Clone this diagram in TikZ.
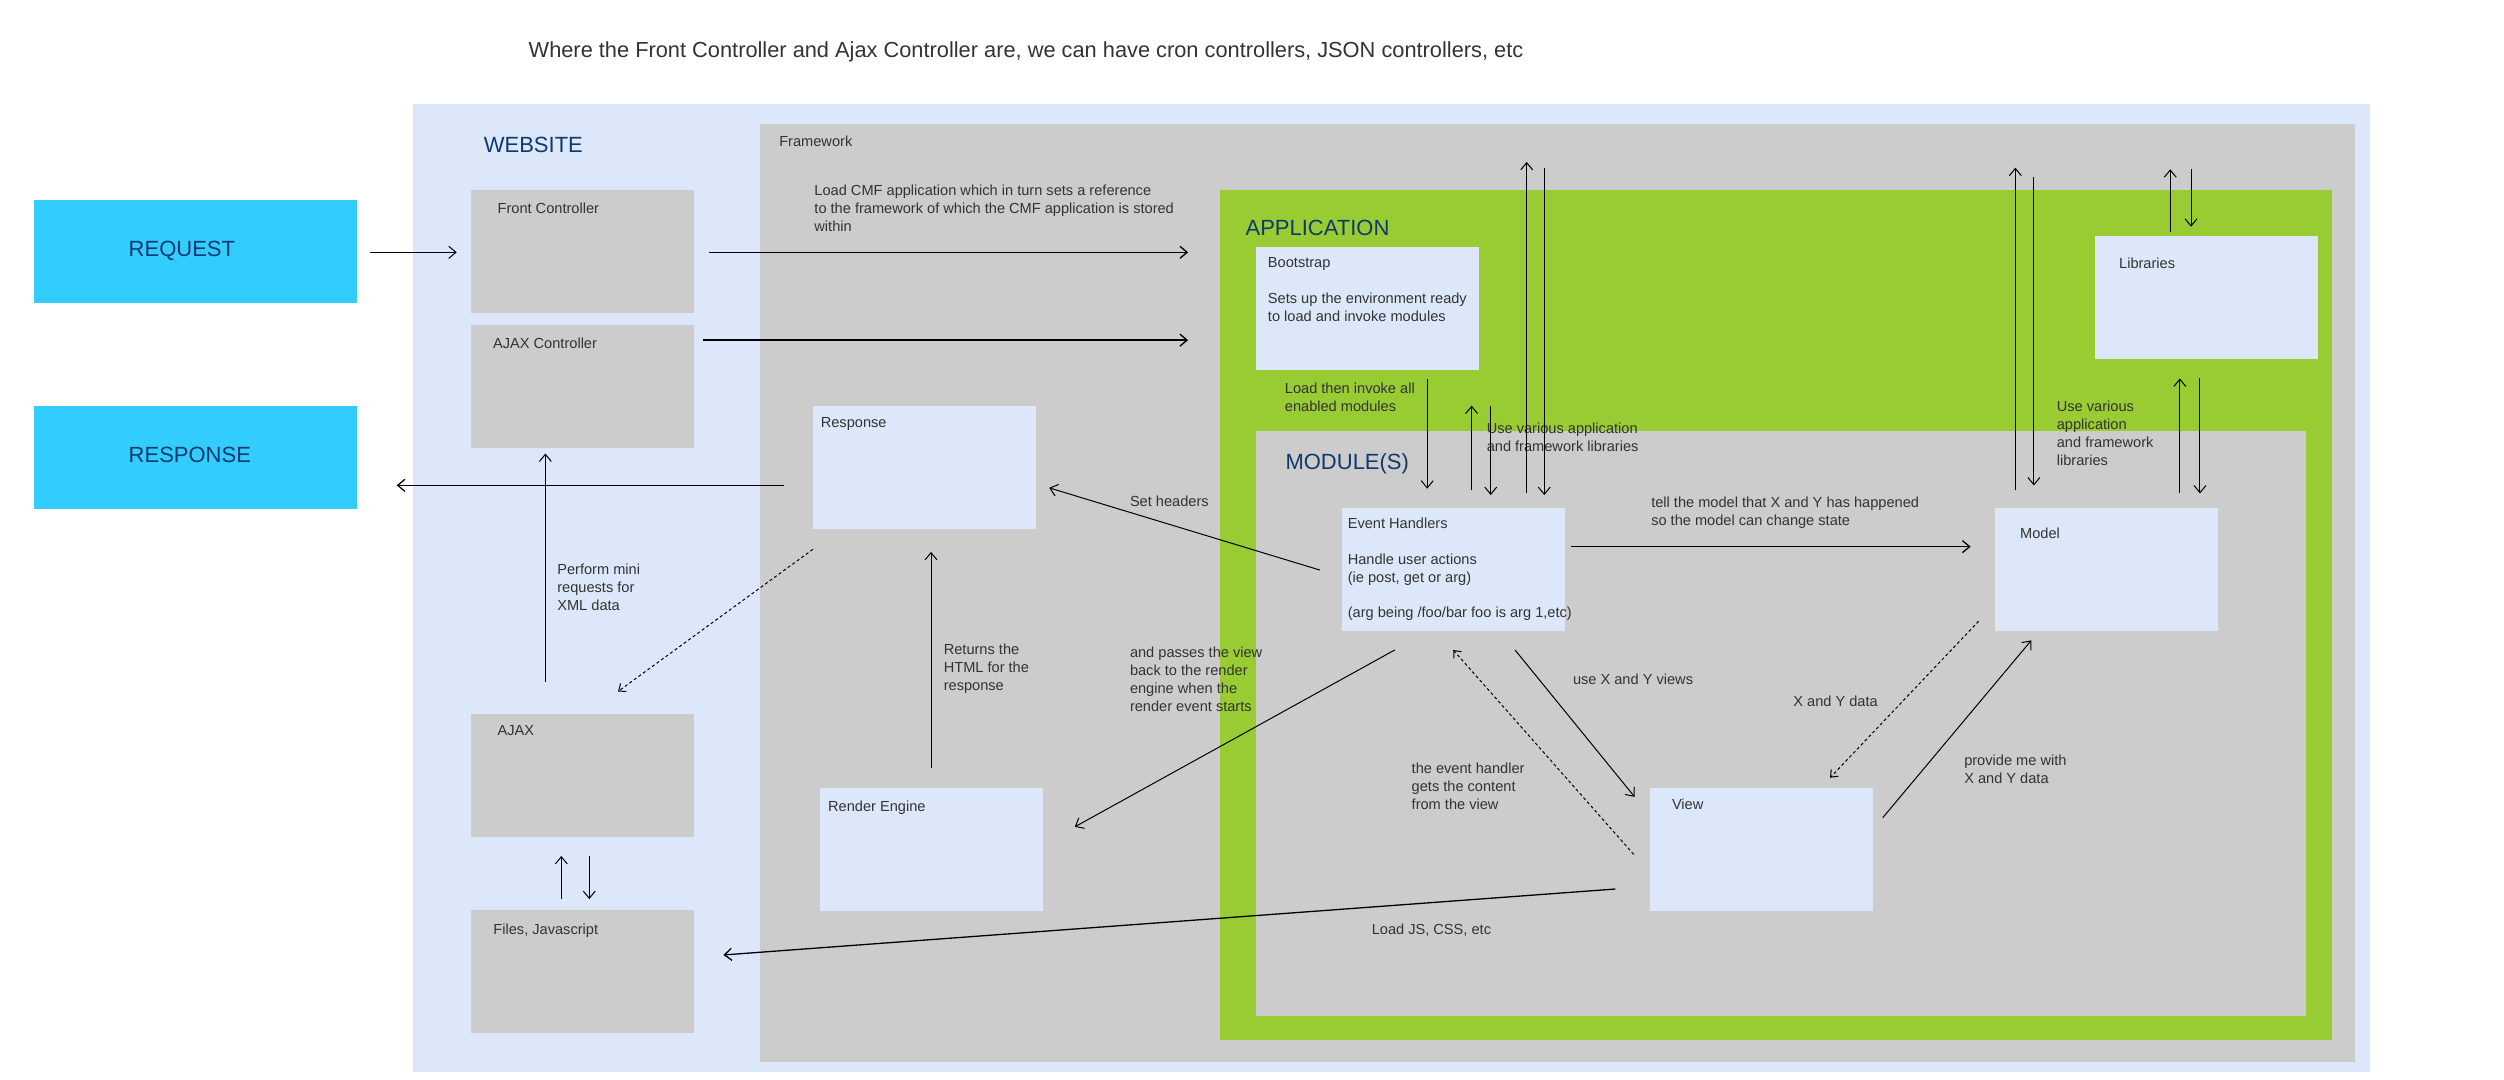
\documentclass[tikz,border=0pt]{standalone}
\usepackage{fontspec}
\setmainfont{Liberation Sans}
\usetikzlibrary{arrows.meta,fit}
\definecolor{lblue}{HTML}{DCE8F9}
\definecolor{lgray}{HTML}{CCCCCC}
\definecolor{lgreen}{HTML}{99CC33}
\definecolor{cyanbox}{HTML}{33CCFF}
\definecolor{navy}{HTML}{0E3A6E}
\definecolor{txtc}{HTML}{333333}
\begin{document}
\begin{tikzpicture}[x=0.7985pt,y=-0.7985pt,
  area/.style={inner sep=0pt, outer sep=0pt, draw=none},
  graybox/.style={area, fill=lgray},
  bluebox/.style={area, fill=lblue},
  cyanrect/.style={area, fill=cyanbox},
  lbl/.style={anchor=north west, inner sep=0pt, outer sep=0pt, text=txtc,
    font=\fontsize{7.3}{8.95}\selectfont, align=left},
  head/.style={anchor=north west, inner sep=0pt, outer sep=0pt, text=navy,
    font=\fontsize{11}{13}\selectfont},
  arr/.style={-{Straight Barb[length=3.6pt,width=6pt]}, line width=0.5pt},
  harr/.style={arr, line width=0.65pt},
  darr/.style={-{Straight Barb[length=3pt,width=5pt]}, line width=0.5pt, dash pattern=on 1.5pt off 1.3pt}]
\path[use as bounding box, fill=white] (0,0) rectangle (1568,676);

% panels
\node[bluebox, fit={(258.6,65) (1484,671)}] (website) {};
\node[graybox, fit={(476,77.6) (1474.7,665)}] (framework) {};
\node[area, fill=lgreen, fit={(764,119) (1460.3,651.2)}] (application) {};
\node[graybox, fit={(786.5,270) (1444,636.2)}] (modules) {};

% boxes
\node[cyanrect, fit={(21.3,125.2) (223.5,189.5)}] (request) {};
\node[cyanrect, fit={(21.3,254.2) (223.5,318.5)}] (responseout) {};
\node[graybox, fit={(295,119) (434.5,196)}] (fc) {};
\node[graybox, fit={(295,203.5) (434.5,280.5)}] (ajaxc) {};
\node[graybox, fit={(295,447) (434.6,524)}] (ajax) {};
\node[graybox, fit={(295,570) (434.6,647)}] (files) {};
\node[bluebox, fit={(509,254) (648.8,331)}] (response) {};
\node[bluebox, fit={(513.6,493.5) (653,570.5)}] (render) {};
\node[bluebox, fit={(786.5,154.7) (926,231.7)}] (bootstrap) {};
\node[bluebox, fit={(1312,148) (1451.6,225)}] (libraries) {};
\node[bluebox, fit={(840.4,318) (980,395)}] (eh) {};
\node[bluebox, fit={(1249,318) (1389,395)}] (model) {};
\node[bluebox, fit={(1033,493.5) (1173,570.5)}] (view) {};

% texts
\node[anchor=north west, inner sep=0pt, text=txtc, font=\fontsize{10.9}{13}\selectfont] (title) at (330.8,26)
  {Where the Front Controller and Ajax Controller are, we can have cron controllers, JSON controllers, etc};
\node[head] (twebsite) at (303,85.8) {WEBSITE};
\node[head] (trequest) at (80.6,151) {REQUEST};
\node[head] (tresponse) at (80.6,280) {RESPONSE};
\node[head] (tapp) at (780,138) {APPLICATION};
\node[head] (tmod) at (805,284) {MODULE(S)};
\node[lbl] (tframework) at (488,85.3) {Framework};
\node[lbl] (tfc) at (311.6,127.1) {Front Controller};
\node[lbl] (tajaxc) at (308.8,211.3) {AJAX Controller};
\node[lbl] (tajax) at (311.6,454.3) {AJAX};
\node[lbl] (tfiles) at (309,578.3) {Files, Javascript};
\node[lbl] (tresp) at (514,261.3) {Response};
\node[lbl] (trender) at (518.6,501.3) {Render Engine};
\node[lbl] (tboot) at (794,161.3) {Bootstrap\\[8.95pt]Sets up the environment ready\\to load and invoke modules};
\node[lbl] (tlib) at (1327,161.5) {Libraries};
\node[lbl] (teh) at (844,324.3) {Event Handlers\\[8.95pt]Handle user actions\\(ie post, get or arg)\\[8.95pt](arg being /foo/bar foo is arg 1,etc)};
\node[lbl] (tmodel) at (1265,330.3) {Model};
\node[lbl] (tview) at (1047,500.3) {View};
\node[lbl] (tload) at (510,115.9) {Load CMF application which in turn sets a reference\\to the framework of which the CMF application is stored\\within};
\node[lbl] (tinvoke) at (804.6,239.9) {Load then invoke all\\enabled modules};
\node[lbl] (tuse1) at (931,265) {Use various application\\and framework libraries};
\node[lbl] (tuse2) at (1288,251.3) {Use various\\application\\and framework\\libraries};
\node[lbl] (tmini) at (349,353.3) {Perform mini\\requests for\\XML data};
\node[lbl] (treturns) at (591,403.3) {Returns the\\HTML for the\\response};
\node[lbl] (theaders) at (707.6,310.3) {Set headers};
\node[lbl] (tpasses) at (707.6,405.3) {and passes the view\\back to the render\\engine when the\\render event starts};
\node[lbl] (ttell) at (1034,311.3) {tell the model that X and Y has happened\\so the model can change state};
\node[lbl] (tusexy) at (985,422.3) {use X and Y views};
\node[lbl] (txydata) at (1123,435.8) {X and Y data};
\node[lbl] (tprovide) at (1230,472.8) {provide me with\\X and Y data};
\node[lbl] (tgets) at (884,477.8) {the event handler\\gets the content\\from the view};
\node[lbl] (tjs) at (859,578.8) {Load JS, CSS, etc};

% connector end points
\coordinate (reqS) at (231.7,158);   \coordinate (reqE) at (286,158);
\coordinate (respS) at (491,303.9);  \coordinate (respE) at (248.4,303.9);
\coordinate (fcS) at (444,158);      \coordinate (fcE) at (744,158);
\coordinate (acS) at (440,213);      \coordinate (acE) at (744,213);
\coordinate (miniS) at (341.5,427);  \coordinate (miniE) at (341.5,284);
\coordinate (afU1) at (351.5,563);   \coordinate (afU2) at (351.5,536);
\coordinate (afD1) at (369,536);     \coordinate (afD2) at (369,563);
\coordinate (rdS) at (509,344);      \coordinate (rdE) at (387,433);
\coordinate (reS) at (583,481);      \coordinate (reE) at (583,345.6);
\coordinate (shS) at (826.6,357);    \coordinate (shE) at (657,305.5);
\coordinate (erS) at (873.4,407);    \coordinate (erE) at (673,517.8);
\coordinate (bsS) at (893.7,237.5);  \coordinate (bsE) at (893.7,306);
\coordinate (u1S) at (921.5,307);    \coordinate (u1E) at (921.5,254);
\coordinate (d1S) at (933.5,254);    \coordinate (d1E) at (933.5,310);
\coordinate (u2S) at (956,309);      \coordinate (u2E) at (956,101.4);
\coordinate (d2S) at (967,105);      \coordinate (d2E) at (967,310);
\coordinate (u3S) at (1262,307);     \coordinate (u3E) at (1262,105);
\coordinate (d3S) at (1273.6,111);   \coordinate (d3E) at (1273.6,304);
\coordinate (u4S) at (1359,145);     \coordinate (u4E) at (1359,106);
\coordinate (d4S) at (1372,106);     \coordinate (d4E) at (1372,142);
\coordinate (u5S) at (1365,309);     \coordinate (u5E) at (1365,237);
\coordinate (d5S) at (1377.6,237);   \coordinate (d5E) at (1377.6,309);
\coordinate (emS) at (983.7,342.3);  \coordinate (emE) at (1234,342.3);
\coordinate (evS) at (948.7,407);    \coordinate (evE) at (1023.6,499);
\coordinate (veS) at (1023,535);     \coordinate (veE) at (910,407);
\coordinate (mvS) at (1239,389);     \coordinate (mvE) at (1146,487);
\coordinate (vmS) at (1179,512);     \coordinate (vmE) at (1272,401);
\coordinate (vfS) at (1011.5,556.7); \coordinate (vfE) at (453,598);

% connectors
\draw[arr] (reqS) -- (reqE);
\draw[harr] (respS) -- (respE);
\draw[harr] (fcS) -- (fcE);
\draw[harr] (acS) -- (acE);
\draw[arr] (miniS) -- (miniE);
\draw[arr] (afU1) -- (afU2);
\draw[arr] (afD1) -- (afD2);
\draw[darr] (rdS) -- (rdE);
\draw[arr] (reS) -- (reE);
\draw[arr] (shS) -- (shE);
\draw[arr] (erS) -- (erE);
\draw[arr] (bsS) -- (bsE);
\draw[arr] (u1S) -- (u1E);
\draw[arr] (d1S) -- (d1E);
\draw[arr] (u2S) -- (u2E);
\draw[arr] (d2S) -- (d2E);
\draw[arr] (u3S) -- (u3E);
\draw[arr] (d3S) -- (d3E);
\draw[arr] (u4S) -- (u4E);
\draw[arr] (d4S) -- (d4E);
\draw[arr] (u5S) -- (u5E);
\draw[arr] (d5S) -- (d5E);
\draw[harr] (emS) -- (emE);
\draw[arr] (evS) -- (evE);
\draw[darr] (veS) -- (veE);
\draw[darr] (mvS) -- (mvE);
\draw[arr] (vmS) -- (vmE);
\draw[harr] (vfS) -- (vfE);
\end{tikzpicture}
\end{document}
